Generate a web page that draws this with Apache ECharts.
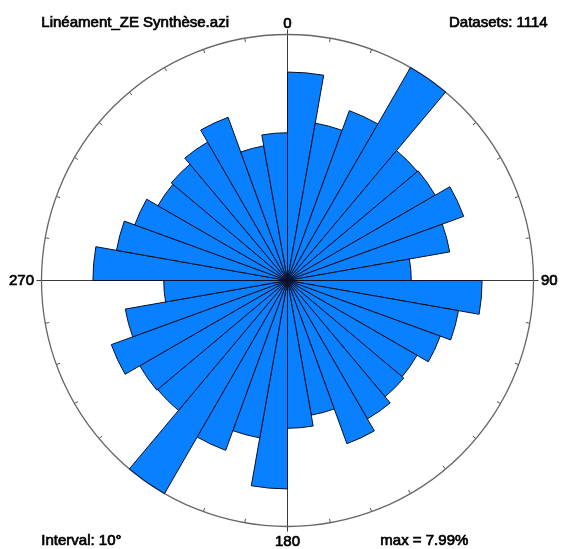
<!DOCTYPE html>
<html>
<head>
<meta charset="utf-8">
<script src="https://cdn.jsdelivr.net/npm/echarts@6/dist/echarts.min.js"></script>
<style>
html,body{margin:0;padding:0;background:#fff;}
#chart{width:566px;height:549px;}
</style>
</head>
<body>
<div id="chart"></div>
<script>
// Bin start azimuths (degrees), 10° interval
const binLabels = ['0','10','20','30','40','50','60','70','80','90','100','110','120','130','140','150','160','170',
                   '180','190','200','210','220','230','240','250','260','270','280','290','300','310','320','330','340','350'];
// Percent of lineaments per bin (bidirectional data)
const percentValues = [6.77,5.19,5.87,7.99,5.51,5.54,6.09,5.35,4.02,6.32,5.64,5.28,4.86,4.93,5.19,5.64,4.44,4.80,
                       6.77,5.19,5.87,7.99,5.51,5.54,6.09,5.35,4.02,6.32,5.64,5.28,4.86,4.93,5.19,5.64,4.44,4.80];
const maxPercent = 7.99;
const cardinalTicks = [0, 90, 180, 270];
const titleText = 'Linéament_ZE Synthèse.azi';
const datasetsText = 'Datasets: 1114';
const intervalText = 'Interval: 10°';
const maxText = 'max = 7.99%';

const FONT = '"Liberation Sans", Arial, sans-serif';
const chart = echarts.init(document.getElementById('chart'), null, {renderer: 'canvas'});
const cx = 287.5, cy = 280.5, R = 246;
const TW = 0.7;

const labelRich = {fontFamily: FONT, fontSize: 15, color: '#000', textBorderColor: '#000', textBorderWidth: TW};

const option = {
  backgroundColor: '#ffffff',
  animation: false,
  polar: [
    {center: [cx, cy], radius: R},
    {center: [cx, cy], radius: R + 5}
  ],
  angleAxis: [
    {
      polarIndex: 0,
      type: 'category',
      data: binLabels,
      startAngle: 90,
      clockwise: true,
      boundaryGap: true,
      axisLine: {show: true, lineStyle: {color: '#666', width: 1.3}},
      axisTick: {show: true, inside: true, length: 4, interval: 0, lineStyle: {color: '#555', width: 1}},
      axisLabel: {show: false},
      splitLine: {show: false}
    },
    {
      polarIndex: 1,
      type: 'value',
      min: 0,
      max: 360,
      interval: 90,
      startAngle: 90,
      clockwise: true,
      axisLine: {show: false},
      axisTick: {show: false},
      splitLine: {show: true, lineStyle: {color: '#3a3a3a', width: 1}},
      axisLabel: {
        show: true,
        margin: 2.5,
        fontFamily: FONT,
        fontSize: 15,
        color: '#000',
        textBorderColor: '#000',
        textBorderWidth: TW,
        formatter: function (v) {
          if (cardinalTicks.indexOf(v) < 0) return '';
          if (v === 0) return '{t|' + v + '}';
          return '{n|' + v + '}';
        },
        rich: {
          t: Object.assign({padding: [0, 0, -4, 0]}, labelRich),
          n: labelRich
        }
      }
    }
  ],
  radiusAxis: [
    {polarIndex: 0, type: 'value', min: 0, max: maxPercent, axisLine: {show: false}, axisTick: {show: false}, axisLabel: {show: false}, splitLine: {show: false}},
    {polarIndex: 1, type: 'value', min: 0, max: 1, axisLine: {show: false}, axisTick: {show: false}, axisLabel: {show: false}, splitLine: {show: false}}
  ],
  series: [{
    type: 'bar',
    coordinateSystem: 'polar',
    polarIndex: 0,
    data: percentValues,
    barCategoryGap: '0%',
    barGap: '0%',
    itemStyle: {color: '#0880ff', borderColor: '#081028', borderWidth: 1}
  }],
  graphic: [
    {type: 'text', left: 41, top: 15, style: {text: titleText, font: '15px ' + FONT, fill: '#000', stroke: '#000', lineWidth: TW}},
    {type: 'text', right: 18, top: 15, style: {text: datasetsText, font: '15px ' + FONT, fill: '#000', stroke: '#000', lineWidth: TW}},
    {type: 'text', left: 41, top: 533, style: {text: intervalText, font: '15px ' + FONT, fill: '#000', stroke: '#000', lineWidth: TW}},
    {type: 'text', left: 380, top: 533, style: {text: maxText, font: '15px ' + FONT, fill: '#000', stroke: '#000', lineWidth: TW}}
  ]
};
chart.setOption(option);
</script>
</body>
</html>
